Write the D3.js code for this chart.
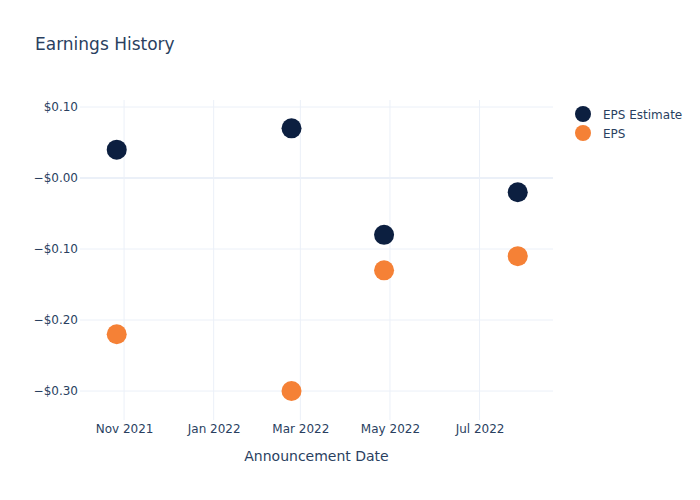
<!DOCTYPE html>
<html>
<head>
<meta charset="utf-8">
<script src="https://cdn.jsdelivr.net/npm/d3@7"></script>
<style>
  body { margin: 0; background: #fff; }
  text { font-family: "DejaVu Sans", Verdana, sans-serif; fill: #2a3f5f; }
</style>
</head>
<body>
<svg id="chart" width="700" height="500"></svg>
<script>
const dates = ["2021-10-27", "2022-02-23", "2022-04-27", "2022-07-27"];
const epsEstimate = [0.04, 0.07, -0.08, -0.02];
const eps = [-0.22, -0.30, -0.13, -0.11];
const seriesNames = ["EPS Estimate", "EPS"];
const seriesColors = ["#0c1f40", "#f58136"];
const yTicks = [0.10, 0.00, -0.10, -0.20, -0.30];
const yTickLabels = ["$0.10", "\u2212$0.00", "\u2212$0.10", "\u2212$0.20", "\u2212$0.30"];
const xTicks = ["2021-11-01", "2022-01-01", "2022-03-01", "2022-05-01", "2022-07-01"];
const xTickLabels = ["Nov 2021", "Jan 2022", "Mar 2022", "May 2022", "Jul 2022"];

const parse = d3.utcParse("%Y-%m-%d");
const svg = d3.select("#chart");
const m = { l: 80, r: 147, t: 100, b: 80 };
const W = 700, H = 500;

const x = d3.scaleUtc()
  .domain([parse("2021-10-02"), parse("2022-08-20")])
  .range([m.l, W - m.r]);
const y = d3.scaleLinear()
  .domain([-0.3408, 0.1099])
  .range([H - m.b, m.t]);

// grid
const g = svg.append("g");
g.selectAll("line.vx").data(xTicks).join("line")
  .attr("x1", d => x(parse(d))).attr("x2", d => x(parse(d)))
  .attr("y1", m.t).attr("y2", H - m.b)
  .attr("stroke", "#ebf0f8").attr("stroke-width", 1);
g.selectAll("line.hy").data(yTicks.filter(v => v !== 0)).join("line")
  .attr("x1", m.l).attr("x2", W - m.r)
  .attr("y1", d => y(d)).attr("y2", d => y(d))
  .attr("stroke", "#ebf0f8").attr("stroke-width", 1);
g.append("line")
  .attr("x1", m.l).attr("x2", W - m.r)
  .attr("y1", y(0)).attr("y2", y(0))
  .attr("stroke", "#ebf0f8").attr("stroke-width", 2);

// axes
const xAxis = d3.axisBottom(x)
  .tickValues(xTicks.map(parse))
  .tickFormat((d, i) => xTickLabels[i])
  .tickSize(0).tickPadding(4);
const xg = svg.append("g").attr("transform", `translate(0,${H - m.b})`).call(xAxis);
xg.select(".domain").remove();
xg.selectAll("text").attr("font-size", 12).attr("fill", "#2a3f5f")
  .style("font-family", '"DejaVu Sans", Verdana, sans-serif');

const yAxis = d3.axisLeft(y)
  .tickValues(yTicks)
  .tickFormat((d, i) => yTickLabels[i])
  .tickSize(0).tickPadding(2);
const yg = svg.append("g").attr("transform", `translate(${m.l},0)`).call(yAxis);
yg.select(".domain").remove();
yg.selectAll("text").attr("font-size", 12).attr("fill", "#2a3f5f")
  .style("font-family", '"DejaVu Sans", Verdana, sans-serif');

// points
const series = [epsEstimate, eps];
series.forEach((vals, si) => {
  svg.append("g").selectAll("circle").data(vals).join("circle")
    .attr("cx", (d, i) => x(parse(dates[i])))
    .attr("cy", d => y(d))
    .attr("r", 10)
    .attr("fill", seriesColors[si]);
});

// title
svg.append("text").attr("x", 35).attr("y", 50)
  .attr("font-size", 17).text("Earnings History");

// x axis title
svg.append("text").attr("x", (m.l + W - m.r) / 2).attr("y", 461)
  .attr("text-anchor", "middle").attr("font-size", 14).text("Announcement Date");

// legend
const lg = svg.append("g");
seriesNames.forEach((name, i) => {
  lg.append("circle").attr("cx", 583).attr("cy", 114 + i * 19).attr("r", 8)
    .attr("fill", seriesColors[i]);
  lg.append("text").attr("x", 603).attr("y", 118.5 + i * 19)
    .attr("font-size", 12).text(name);
});
</script>
</body>
</html>
